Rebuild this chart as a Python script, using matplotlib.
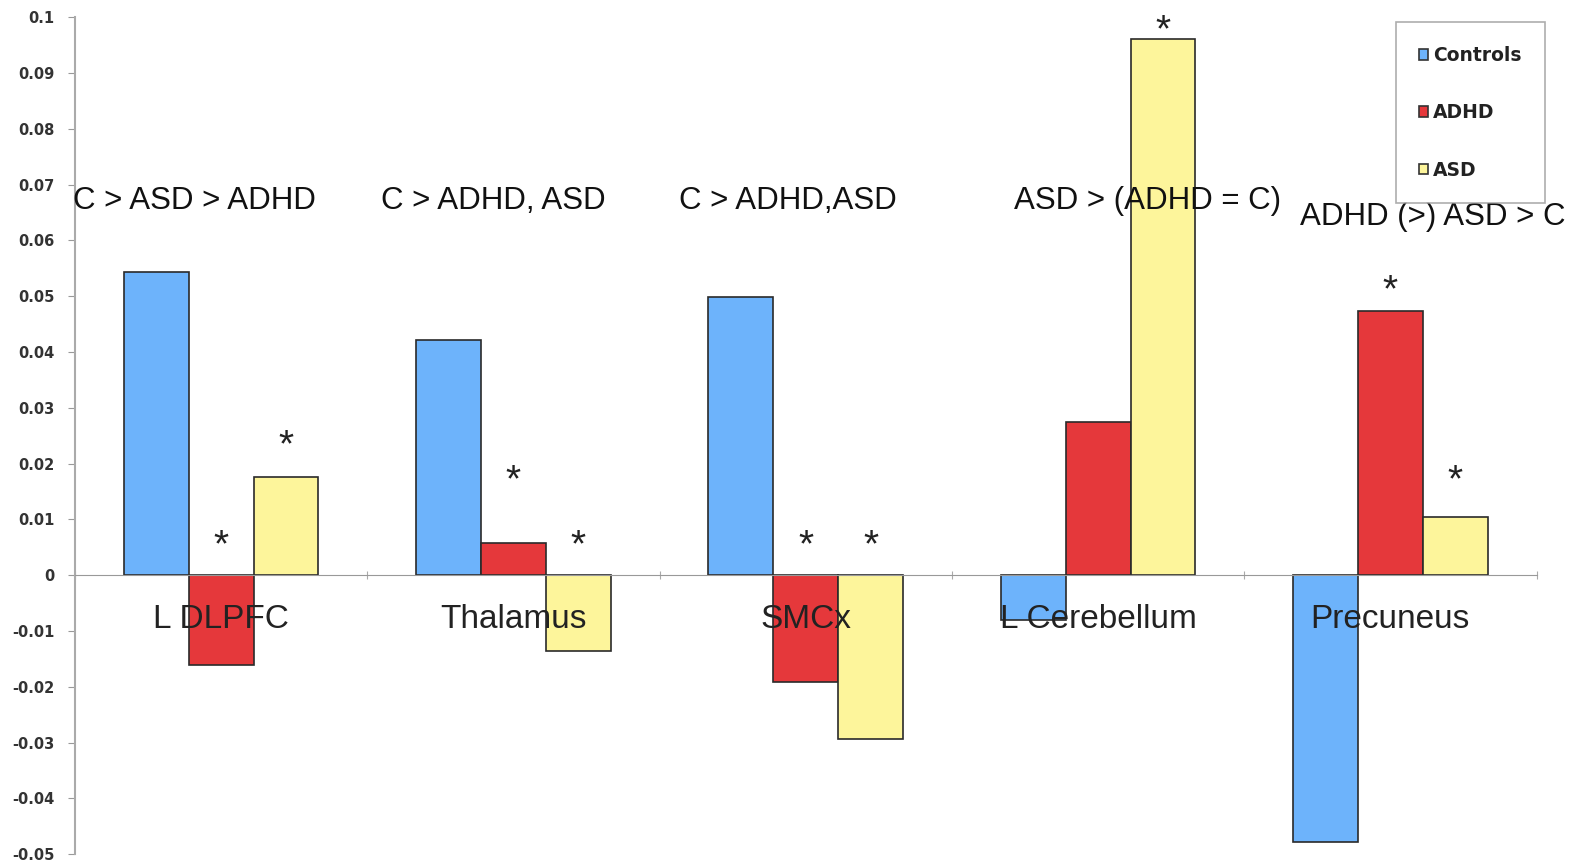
import numpy as np
import matplotlib
matplotlib.use("Agg")
import matplotlib.pyplot as plt
import matplotlib.transforms as mtransforms
from matplotlib.patches import Patch

plt.rcParams['font.family'] = ['Liberation Sans', 'DejaVu Sans']

regions = ['L DLPFC', 'Thalamus', 'SMCx', 'L Cerebellum', 'Precuneus']
groups = ['Controls', 'ADHD', 'ASD']
controls = [0.0543, 0.0421, 0.0499, -0.0081, -0.0479]
adhd = [-0.0161, 0.0057, -0.0192, 0.0274, 0.0473]
asd = [0.0176, -0.0135, -0.0293, 0.0961, 0.0105]

# height of the significance stars (None = no star)
star_adhd = [0.0072, 0.0188, 0.0072, None, 0.0529]
star_asd = [0.0251, 0.0072, 0.0072, 0.0995, 0.0188]

contrasts = ['C > ASD > ADHD', 'C > ADHD, ASD', 'C > ADHD,ASD',
             'ASD > (ADHD = C)', 'ADHD (>) ASD > C']
contrast_x = [-0.09, 0.93, 1.94, 3.17, 4.145]
contrast_y = [0.0670, 0.0670, 0.0670, 0.0670, 0.0642]

colors = ['#6db3fb', '#e5383b', '#fdf59b']

fig = plt.figure(figsize=(15.75, 8.68), dpi=100)
ax = fig.add_axes([0.0476, 0.016, 0.928, 0.964])

x = np.arange(len(regions))
w = 0.222
series = [controls, adhd, asd]
for i, (vals, c, lab) in enumerate(zip(series, colors, groups)):
    ax.bar(x + (i - 1) * w, vals, w, color=c, edgecolor='#2a2a2a',
           linewidth=1.2, label=lab, zorder=2)

# stars: shift down so the glyph centre sits on the given height
star_tr = mtransforms.offset_copy(ax.transData, fig=fig, y=-8, units='points')
for i, ys in [(1, star_adhd), (2, star_asd)]:
    for k, y in enumerate(ys):
        if y is not None:
            ax.text(x[k] + (i - 1) * w, y, '*', fontsize=28, ha='center',
                    va='center', color='#222222', zorder=4, transform=star_tr,
                    clip_on=False)

for k, t in enumerate(contrasts):
    ax.text(contrast_x[k], contrast_y[k], t, fontsize=22.5, ha='center',
            va='center', color='#111111', zorder=4, clip_on=False)

for k, r in enumerate(regions):
    ax.text(x[k], -0.0080, r, fontsize=24, ha='center', va='center',
            color='#222222', zorder=4)

ax.set_xlim(-0.5, 4.5)
ax.set_ylim(-0.05, 0.1)
ax.set_yticks(np.arange(-0.05, 0.1001, 0.01))
ax.set_yticklabels(['-0.05', '-0.04', '-0.03', '-0.02', '-0.01', '0', '0.01',
                    '0.02', '0.03', '0.04', '0.05', '0.06', '0.07', '0.08',
                    '0.09', '0.1'])
ax.set_xticks(np.arange(-0.5, 4.6, 1.0))
ax.set_xticklabels([])
ax.tick_params(axis='y', direction='out', length=5, color='#999999',
               labelsize=10.5, labelcolor='#333333', pad=10)
ax.tick_params(axis='x', direction='inout', length=6, color='#aaaaaa')
for lbl in ax.get_yticklabels():
    lbl.set_fontweight('bold')
    lbl.set_family('DejaVu Sans')

ax.spines['top'].set_visible(False)
ax.spines['right'].set_visible(False)
ax.spines['bottom'].set_position(('data', 0))
ax.spines['bottom'].set_color('#999999')
ax.spines['left'].set_color('#aaaaaa')
ax.spines['left'].set_linewidth(1.5)

handles = [Patch(facecolor=c, edgecolor='#333333', linewidth=1.2) for c in colors]
leg = ax.legend(handles, groups, loc='upper left', bbox_to_anchor=(0.9035, 0.994),
                frameon=True, fancybox=False, edgecolor='#999999',
                handlelength=0.5, handleheight=0.5, handletextpad=0.25,
                labelspacing=2.05, borderpad=1.25, borderaxespad=0,
                prop={'weight': 'bold', 'size': 13.5, 'family': 'DejaVu Sans'})
leg.get_frame().set_linewidth(1.2)
for t in leg.get_texts():
    t.set_color('#222222')

fig.savefig('out.png', dpi=100)
